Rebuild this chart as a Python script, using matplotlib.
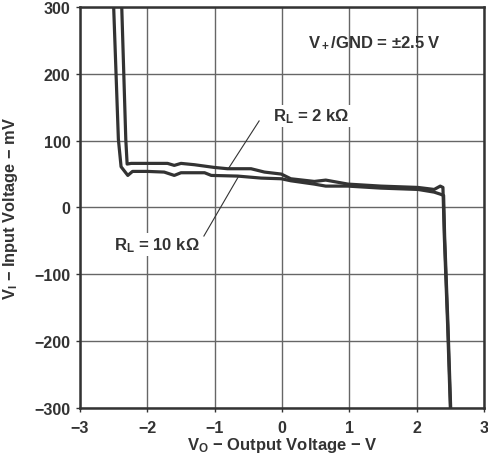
import matplotlib
matplotlib.use("Agg")
import matplotlib.pyplot as plt

plt.rcParams['font.family'] = ['Liberation Sans', 'DejaVu Sans']
plt.rcParams['font.weight'] = 'bold'
plt.rcParams['mathtext.fontset'] = 'custom'
plt.rcParams['mathtext.rm'] = 'Liberation Sans:bold'
plt.rcParams['mathtext.it'] = 'Liberation Sans:bold'
plt.rcParams['mathtext.bf'] = 'Liberation Sans:bold'

# RL = 2 kOhm curve (output voltage V, input voltage mV)
vo_2k = [-2.38, -2.32, -2.30, -2.24, -2.00, -1.70, -1.60, -1.50, -1.30, -1.01,
         -0.81, -0.46, -0.26, -0.01, 0.13, 0.48, 0.65, 0.98, 1.47, 2.02, 2.26,
         2.35, 2.39, 2.41, 2.46, 2.50]
vi_2k = [300, 102, 65, 66, 66, 66, 63, 66, 64, 60,
         58, 58, 53, 50, 43, 39, 41, 35, 32, 30, 27,
         32, 30, -42, -177, -300]

# RL = 10 kOhm curve
vo_10k = [-2.50, -2.43, -2.39, -2.29, -2.22, -2.00, -1.75, -1.60, -1.50, -1.15,
          -1.05, -0.66, -0.31, -0.01, 0.13, 0.48, 0.65, 0.98, 1.47, 2.02, 2.26,
          2.35, 2.40, 2.415, 2.465, 2.505]
vi_10k = [300, 102, 61, 48, 54, 54, 53, 48, 52, 52,
          48, 47, 44, 43, 40, 35, 32, 32, 29, 27, 23,
          20, 18, -42, -177, -300]

x_ticks = [-3, -2, -1, 0, 1, 2, 3]
y_ticks = [-300, -200, -100, 0, 100, 200, 300]
x_tick_labels = ['\u22123', '\u22122', '\u22121', '0', '1', '2', '3']
y_tick_labels = ['\u2212300', '\u2212200', '\u2212100', '0', '100', '200', '300']

fig = plt.figure(figsize=(4.89, 4.60), dpi=100)
ax = fig.add_axes([0.1636, 0.1109, 0.9898 - 0.1636, 0.9826 - 0.1109])

lc = '#333333'
ax.plot(vo_2k, vi_2k, color=lc, lw=2.3, solid_joinstyle='round', zorder=3)
ax.plot(vo_10k, vi_10k, color=lc, lw=2.3, solid_joinstyle='round', zorder=3)

ax.set_xlim(-3, 3)
ax.set_ylim(-300, 300)
ax.set_xticks(x_ticks)
ax.set_xticklabels(x_tick_labels)
ax.set_yticks(y_ticks)
ax.set_yticklabels(y_tick_labels)
ax.grid(True, color='#666666', lw=1.0)
ax.set_axisbelow(True)
for s in ax.spines.values():
    s.set_linewidth(1.8)
    s.set_color(lc)
ax.tick_params(direction='out', length=3, width=1, color=lc, labelsize=11.5,
               labelcolor=lc)
ax.tick_params(axis='x', pad=6)
ax.tick_params(axis='y', pad=4)
for lab in ax.get_xticklabels() + ax.get_yticklabels():
    lab.set_fontweight('bold')

MINUS = '\u2212'
OHM = '\u03a9'
ax.set_xlabel(r'$\mathrm{V_O}$ ' + MINUS + ' Output Voltage ' + MINUS + ' V',
              fontsize=12, fontweight='bold', color=lc, labelpad=0)
ax.set_ylabel(r'$\mathrm{V_I}$ ' + MINUS + ' Input Voltage ' + MINUS + ' mV',
              fontsize=11.8, fontweight='bold', color=lc, labelpad=10)

ax.text(0.39, 241, r'$\mathrm{V_+}$/GND = ' + '\u00b1' + '2.5 V',
        fontsize=12, fontweight='bold', color=lc, ha='left', va='baseline')

box = dict(facecolor='white', edgecolor='none', pad=1.5)
ax.text(-0.14, 130, r'$\mathrm{R_L}$ = 2 k' + OHM,
        fontsize=12, fontweight='bold', color=lc, ha='left', va='baseline', bbox=box, zorder=4)
ax.text(-2.50, -62, r'$\mathrm{R_L}$ = 10 k' + OHM,
        fontsize=12, fontweight='bold', color=lc, ha='left', va='baseline', bbox=box, zorder=4)

ax.plot([-0.34, -0.80], [129.5, 57.6], color=lc, lw=0.8, zorder=4)
ax.plot([-1.16, -0.65], [-42.7, 45.7], color=lc, lw=0.8, zorder=4)

fig.savefig('out.png', dpi=100)
